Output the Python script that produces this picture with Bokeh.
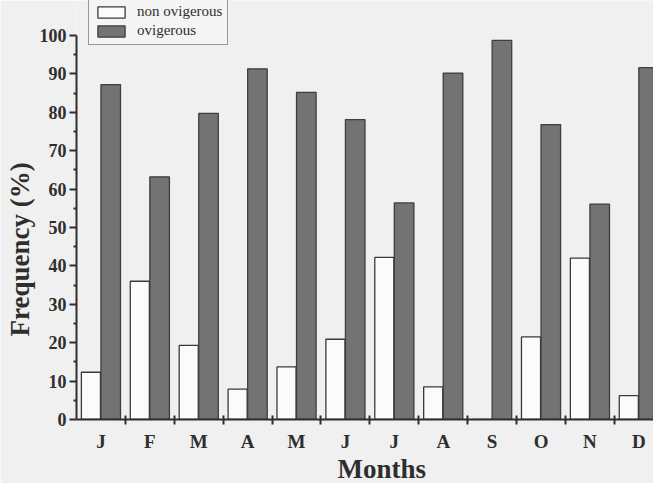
from bokeh.plotting import figure
from bokeh.models import Range1d, FixedTicker, Legend, LegendItem, ColumnDataSource, Title
from bokeh.embed import file_html
from bokeh.resources import INLINE

months = ["J", "F", "M", "A", "M", "J", "J", "A", "S", "O", "N", "D"]
non_ovigerous = [12.3, 36.0, 19.3, 7.9, 13.7, 20.9, 42.2, 8.5, 0.0, 21.5, 42.0, 6.2]
ovigerous = [87.2, 63.2, 79.7, 91.3, 85.2, 78.1, 56.4, 90.2, 98.7, 76.8, 56.1, 91.6]
y_ticks = list(range(0, 101, 10))
y_minor = list(range(5, 100, 10))

idx = list(range(len(months)))
src = ColumnDataSource(dict(
    x_non=[i + 0.295 for i in idx],
    x_ovi=[i + 0.70 for i in idx],
    non=non_ovigerous,
    ovi=ovigerous,
))

BG = "#f0f0f0"
INK = "#2e2e2e"
FONT = "Liberation Serif"

p = figure(width=653, height=483, output_backend="svg", toolbar_location=None,
           x_range=Range1d(0, 11.8), y_range=Range1d(0, 109.1),
           min_border_left=75, min_border_right=0, min_border_top=0, min_border_bottom=64)
p.background_fill_color = BG
p.border_fill_color = BG
p.outline_line_color = None
p.xgrid.visible = False
p.ygrid.visible = False

r_non = p.vbar(x="x_non", top="non", width=0.39, bottom=0, source=src,
               fill_color="#fbfbfb", line_color="#3a3a3a", line_width=1.3)
r_ovi = p.vbar(x="x_ovi", top="ovi", width=0.40, bottom=0, source=src,
               fill_color="#737373", line_color="#3e3e3e", line_width=1.3)

# y axis
ya = p.yaxis[0]
ya.ticker = FixedTicker(ticks=y_ticks, minor_ticks=y_minor)
ya.bounds = (0, 100)
ya.axis_line_width = 2
ya.axis_line_color = INK
ya.major_tick_line_color = INK
ya.major_tick_line_width = 2
ya.major_tick_out = 7
ya.major_tick_in = 0
ya.minor_tick_line_color = INK
ya.minor_tick_line_width = 2
ya.minor_tick_out = 3
ya.minor_tick_in = 0
ya.major_label_text_font = FONT
ya.major_label_text_font_style = "bold"
ya.major_label_text_font_size = "18px"
ya.major_label_text_color = INK
ya.major_label_standoff = 3
ya.axis_label_standoff = 0

# x axis
xa = p.xaxis[0]
xa.ticker = FixedTicker(ticks=[i + 0.5 for i in idx], minor_ticks=list(range(1, 12)))
xa.major_label_overrides = {i + 0.5: m for i, m in zip(idx, months)}
xa.axis_line_width = 2
xa.axis_line_color = INK
xa.major_tick_line_color = None
xa.major_tick_out = 0
xa.major_tick_in = 0
xa.minor_tick_line_color = INK
xa.minor_tick_line_width = 2
xa.minor_tick_out = 5
xa.minor_tick_in = 4
xa.major_label_text_font = FONT
xa.major_label_text_font_style = "bold"
xa.major_label_text_font_size = "19px"
xa.major_label_text_color = INK
xa.major_label_standoff = 6
xa.axis_label_standoff = 0

# axis titles as side-panel titles (offset from the start, like the original)
p.add_layout(Title(text="Frequency (%)", align="left", offset=83, standoff=4,
                   text_font=FONT, text_font_style="bold", text_font_size="27px",
                   text_color=INK), "left")
p.add_layout(Title(text="Months", align="left", offset=261, standoff=-6,
                   text_font=FONT, text_font_style="bold", text_font_size="27px",
                   text_color=INK), "below")

legend = Legend(items=[LegendItem(label="non ovigerous", renderers=[r_non]),
                       LegendItem(label="ovigerous", renderers=[r_ovi])],
                location=(12, 374))
legend.glyph_width = 34
legend.glyph_height = 14
legend.label_height = 15
legend.label_standoff = 9
legend.spacing = 2
legend.padding = 5
legend.margin = 0
legend.label_text_font = FONT
legend.label_text_font_size = "15px"
legend.label_text_color = INK
legend.border_line_color = "#3a3a3a"
legend.border_line_width = 1
legend.background_fill_color = "#f4f4f4"
legend.background_fill_alpha = 1
p.add_layout(legend, "center")

open("out.html", "w").write(file_html(p, INLINE))
